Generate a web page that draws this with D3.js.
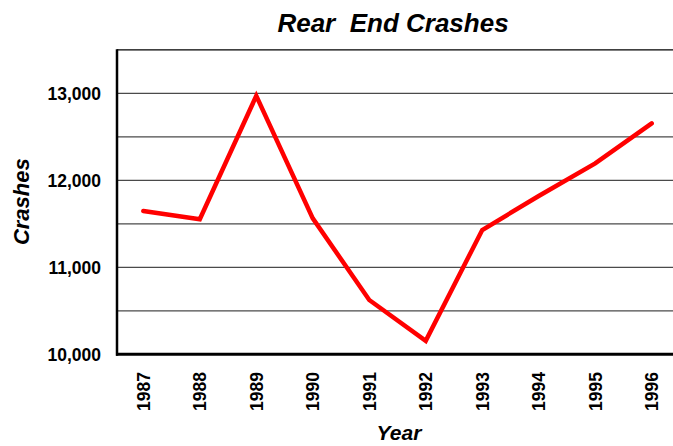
<!DOCTYPE html>
<html>
<head>
<meta charset="utf-8">
<script src="https://cdn.jsdelivr.net/npm/d3@7"></script>
<style>
  body { margin: 0; background: #fff; }
  text { font-family: Arial, "Liberation Sans", sans-serif; font-weight: bold; fill: #000; }
</style>
</head>
<body>
<div id="chart"></div>
<script>
// data
var years = ["1987", "1988", "1989", "1990", "1991", "1992", "1993", "1994", "1995", "1996"];
var crashes = [11647, 11552, 12970, 11563, 10624, 10155, 11429, 11820, 12195, 12655];
var yTicks = [10000, 11000, 12000, 13000];
var gridValues = [10500, 11000, 11500, 12000, 12500, 13000, 13500];

var width = 673, height = 446;
var plotLeft = 117, plotTop = 49.8, plotBottom = 354.3, plotRight = 680;

var svg = d3.select("#chart").append("svg")
  .attr("width", width)
  .attr("height", height);

var x = d3.scalePoint().domain(years).range([143.3, 651.7]);
var y = d3.scaleLinear().domain([10000, 13500]).range([plotBottom, plotTop]);

// gridlines
svg.selectAll(".grid")
  .data(gridValues)
  .enter().append("line")
  .attr("class", "grid")
  .attr("x1", plotLeft).attr("x2", plotRight)
  .attr("y1", function(d) { return y(d); })
  .attr("y2", function(d) { return y(d); })
  .attr("stroke", function(d) { return d === 13500 ? "#000" : "#4a4a4a"; })
  .attr("stroke-width", 1.3);

// axes lines
svg.append("line")
  .attr("x1", plotLeft).attr("x2", plotLeft)
  .attr("y1", plotTop - 0.5).attr("y2", plotBottom + 1.5)
  .attr("stroke", "#000").attr("stroke-width", 2.5);
svg.append("line")
  .attr("x1", plotLeft - 1).attr("x2", plotRight)
  .attr("y1", plotBottom).attr("y2", plotBottom)
  .attr("stroke", "#000").attr("stroke-width", 3);

// y tick labels
svg.selectAll(".ytick")
  .data(yTicks)
  .enter().append("text")
  .attr("class", "ytick")
  .attr("x", 101)
  .attr("y", function(d) { return y(d); })
  .attr("dy", "0.36em")
  .attr("text-anchor", "end")
  .style("font-size", "17.5px")
  .text(d3.format(","));

// x tick labels, rotated
svg.selectAll(".xtick")
  .data(years)
  .enter().append("text")
  .attr("class", "xtick")
  .attr("transform", function(d) { return "translate(" + x(d) + ",372) rotate(-90)"; })
  .attr("dy", "0.36em")
  .attr("text-anchor", "end")
  .style("font-size", "17.5px")
  .text(function(d) { return d; });

// the line
var line = d3.line()
  .x(function(d, i) { return x(years[i]); })
  .y(function(d) { return y(d); });

svg.append("path")
  .datum(crashes)
  .attr("d", line)
  .attr("fill", "none")
  .attr("stroke", "#ff0000")
  .attr("stroke-width", 4.5)
  .attr("stroke-linecap", "round")
  .attr("stroke-linejoin", "miter");

// titles
svg.append("text")
  .attr("x", 393).attr("y", 32)
  .attr("text-anchor", "middle")
  .style("font-size", "26px")
  .style("font-style", "italic")
  .style("white-space", "pre")
  .text("Rear  End Crashes");

svg.append("text")
  .attr("transform", "translate(28.5,201.7) rotate(-90)")
  .attr("text-anchor", "middle")
  .style("font-size", "22px")
  .style("font-style", "italic")
  .text("Crashes");

svg.append("text")
  .attr("x", 399).attr("y", 440)
  .attr("text-anchor", "middle")
  .style("font-size", "21px")
  .style("font-style", "italic")
  .text("Year");
</script>
</body>
</html>
